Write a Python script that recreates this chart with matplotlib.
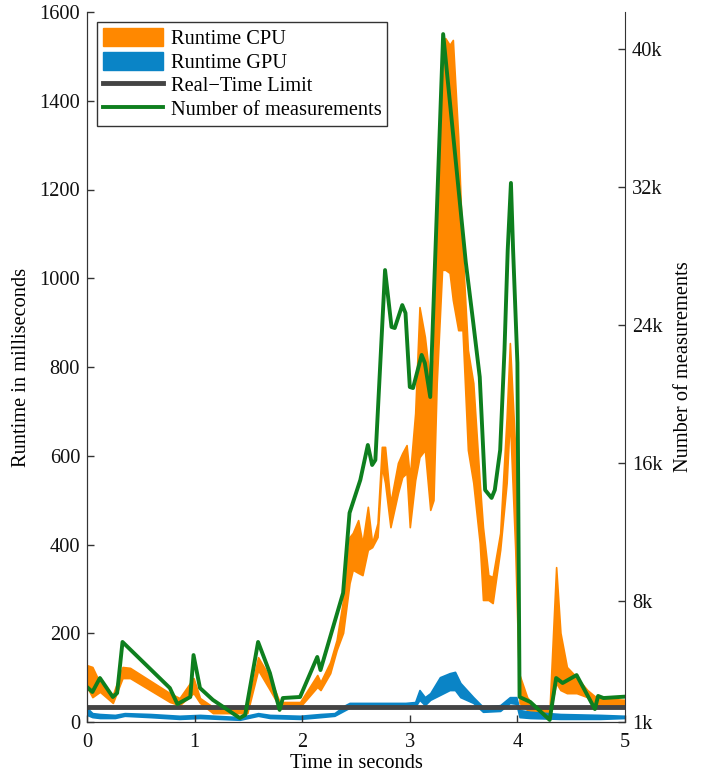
import numpy as np
import matplotlib
matplotlib.use('Agg')
from matplotlib import pyplot as plt
from matplotlib.patches import Patch
from matplotlib.lines import Line2D

plt.rcParams['font.family'] = ['Liberation Serif', 'DejaVu Serif']
fs = 14.7

# CPU runtime band (ms)
t_cpu = [0.00, 0.05, 0.12, 0.24, 0.33, 0.40, 0.77, 0.86, 0.99, 1.05, 1.17, 1.49, 1.59, 1.70, 1.79,
         1.98, 2.14, 2.17, 2.26, 2.32, 2.38, 2.44, 2.47, 2.52, 2.56, 2.61, 2.65, 2.70, 2.74, 2.77,
         2.82, 2.89, 2.93, 2.97, 3.00, 3.05, 3.09, 3.14, 3.19, 3.22, 3.25, 3.30, 3.33, 3.37, 3.40,
         3.45, 3.49, 3.54, 3.59, 3.65, 3.68, 3.73, 3.77, 3.84, 3.90, 3.93, 3.98, 4.02, 4.09, 4.16,
         4.30, 4.36, 4.40, 4.46, 4.55, 4.65, 4.74, 5.00]
cpu_hi = [128, 124, 88, 61, 124, 122, 65, 54, 99, 54, 34, 34, 146, 101, 45,
          45, 106, 90, 135, 185, 275, 417, 426, 455, 403, 485, 403, 448, 620, 620,
          494, 584, 606, 624, 552, 696, 935, 868, 764, 816, 1064, 1402, 1541, 1526, 1537,
          1318, 1064, 838, 764, 539, 439, 331, 327, 426, 687, 854, 613, 106, 56, 34,
          34, 349, 201, 124, 101, 72, 54, 50]
cpu_lo = [79, 56, 68, 43, 99, 99, 45, 38, 65, 43, 20, 20, 117, 72, 34,
          34, 79, 72, 110, 162, 201, 313, 343, 336, 331, 388, 394, 417, 575, 539,
          439, 516, 552, 561, 439, 545, 597, 613, 478, 500, 764, 1019, 1019, 1012, 951,
          883, 883, 613, 539, 403, 275, 275, 268, 388, 539, 687, 388, 43, 27, 20,
          16, 88, 72, 65, 65, 56, 38, 38]

# GPU runtime band (ms)
t_gpu = [0.00, 0.05, 0.12, 0.26, 0.35, 0.59, 0.86, 1.05, 1.42, 1.59, 1.70, 1.98, 2.17, 2.30,
         2.40, 2.44, 2.72, 2.96, 3.05, 3.09, 3.14, 3.19, 3.28, 3.37, 3.42, 3.47, 3.59, 3.68,
         3.84, 3.93, 3.99, 4.02, 4.12, 4.40, 4.77, 5.00]
gpu_hi = [32, 20, 18, 16, 20, 18, 14, 16, 11, 20, 16, 14, 18, 20,
          38, 43, 43, 43, 45, 72, 56, 65, 101, 110, 113, 88, 56, 34,
          38, 56, 56, 27, 23, 18, 16, 14]
gpu_lo = [16, 11, 9, 9, 14, 11, 7, 9, 5, 14, 9, 7, 11, 14,
          27, 32, 32, 32, 34, 50, 38, 50, 61, 72, 72, 56, 43, 23,
          25, 43, 41, 11, 9, 7, 7, 9]

real_time_limit = 33.3

# number of measurements
t_meas = [0.00, 0.05, 0.12, 0.24, 0.28, 0.33, 0.77, 0.84, 0.96, 0.99, 1.05, 1.17, 1.42, 1.47,
          1.59, 1.70, 1.79, 1.82, 1.98, 2.14, 2.17, 2.38, 2.44, 2.54, 2.61, 2.65, 2.68, 2.77,
          2.83, 2.86, 2.93, 2.96, 3.00, 3.03, 3.11, 3.14, 3.19, 3.31, 3.52, 3.59, 3.65, 3.70,
          3.76, 3.79, 3.84, 3.88, 3.91, 3.94, 3.96, 4.00, 4.02, 4.12, 4.30, 4.36, 4.42, 4.55,
          4.72, 4.75, 4.80, 5.00]
meas = [3030, 2740, 3550, 2450, 2680, 5640, 2970, 2040, 2450, 4880, 2970, 2280, 1230, 1410,
        5640, 3840, 1700, 2390, 2450, 4770, 4010, 8480, 13120, 15030, 17060, 15900, 16190, 27200,
        23900, 23840, 25170, 24710, 20420, 20360, 22280, 21810, 19840, 40880, 27670, 24130, 21000, 14450,
        13990, 14450, 16770, 22570, 28360, 32250, 28360, 21810, 2450, 2160, 1120, 3550, 3260, 3720,
        1750, 2510, 2390, 2470]

c_cpu = '#ff8800'
c_gpu = '#0a84c6'
c_lim = '#444444'
c_meas = '#0e7f1e'

fig = plt.figure(figsize=(7.01, 7.72), dpi=100)
ax = fig.add_axes([87/701, 50/772, 538/701, 710/772])
ax2 = ax.twinx()

ax.fill_between(t_cpu, cpu_lo, cpu_hi, color=c_cpu, lw=1.2)
ax.fill_between(t_gpu, gpu_lo, gpu_hi, color=c_gpu, lw=1.2)
ax.axhline(real_time_limit, color=c_lim, lw=3.5)
ax2.plot(t_meas, meas, color=c_meas, lw=2.8)

ax.set_xlim(0, 5)
ax.set_ylim(0, 1600)
ax2.set_ylim(1000, 42160)
ax.set_xticks(range(6))
ax.set_yticks(range(0, 1601, 200))
ax2.set_yticks([1000, 8000, 16000, 24000, 32000, 40000])
ax2.set_yticklabels(['1k', '8k', '16k', '24k', '32k', '40k'])

for a in (ax, ax2):
    a.spines['top'].set_visible(False)
    for s in a.spines.values():
        s.set_color('#333333')
    a.tick_params(direction='in', length=5, width=1, colors='#333333',
                  labelcolor='#111111', labelsize=fs, pad=5)
ax.spines['right'].set_visible(False)
ax.tick_params(axis='x', pad=8)

ax.set_xlabel('Time in seconds', fontsize=fs, labelpad=1)
ax.set_ylabel('Runtime in milliseconds', fontsize=fs, labelpad=6)
ax2.set_ylabel('Number of measurements', fontsize=fs, labelpad=8)

handles = [Patch(color=c_cpu), Patch(color=c_gpu),
           Line2D([], [], color=c_lim, lw=3.5), Line2D([], [], color=c_meas, lw=2.8)]
labels = ['Runtime CPU', 'Runtime GPU', 'Real\u2212Time Limit', 'Number of measurements']
leg = ax2.legend(handles, labels, loc='upper left', bbox_to_anchor=(0.0186, 0.986),
                 fontsize=fs, frameon=True, fancybox=False, edgecolor='black',
                 handlelength=2.95, handleheight=1.0, handletextpad=0.35, labelspacing=0.12,
                 borderpad=0.3, borderaxespad=0)
leg.get_frame().set_linewidth(1)

fig.savefig('out.png', dpi=100)
